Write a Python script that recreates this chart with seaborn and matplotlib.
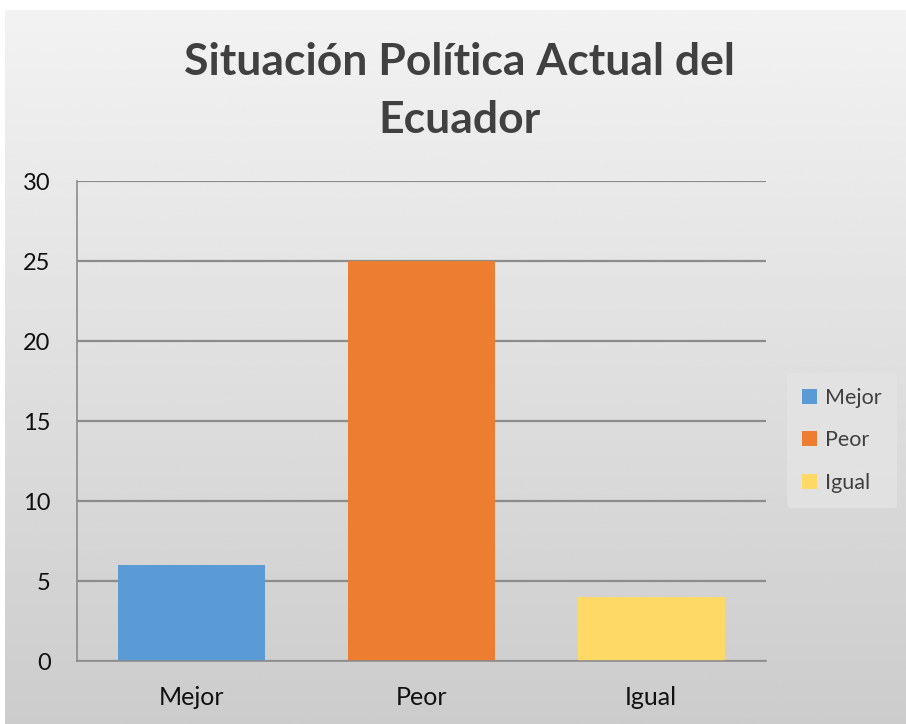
import numpy as np
import pandas as pd
import matplotlib
matplotlib.use("Agg")
import matplotlib.pyplot as plt
import seaborn as sns

# Data
categorias = ["Mejor", "Peor", "Igual"]
valores = [6, 25, 4]
colores = ["#5B9BD5", "#ED7D31", "#FFD966"]
yticks = [0, 5, 10, 15, 20, 25, 30]

df = pd.DataFrame({"categoria": categorias, "valor": valores})

sns.set_style("white")
plt.rcParams["font.family"] = ["Lato", "DejaVu Sans"]

fig = plt.figure(figsize=(9.06, 7.24), dpi=100)
fig.patch.set_facecolor("white")

# Gradient background of the chart area
bg = fig.add_axes([5 / 906, 0, 1 - 5 / 906, 1 - 10 / 724])
grad = np.linspace(0.95, 0.80, 256).reshape(-1, 1)
grad = np.tile(grad, (1, 2))
bg.imshow(grad, cmap="gray", vmin=0, vmax=1, aspect="auto", extent=[0, 1, 0, 1])
bg.axis("off")

ax = fig.add_axes([77 / 906, 1 - 661 / 724, 689 / 906, 480 / 724])
ax.patch.set_alpha(0)

sns.barplot(data=df, x="categoria", y="valor", hue="categoria",
            palette=colores, saturation=1, width=0.64, dodge=False,
            linewidth=0, ax=ax, legend=True)

ax.set_ylim(0, 30)
ax.set_yticks(yticks)
ax.set_yticklabels([str(t) for t in yticks], fontsize=17, color="#111111")
ax.tick_params(axis="x", labelsize=18, colors="#111111", length=0, pad=18)
ax.tick_params(axis="y", length=0, pad=19)
ax.set_xlabel("")
ax.set_ylabel("")
ax.yaxis.grid(True, color="#8c8c8c", linewidth=1.6)
ax.set_axisbelow(True)
ax.spines["right"].set_visible(False)
ax.spines["top"].set_visible(False)
ax.spines["left"].set_color("#8c8c8c")
ax.spines["bottom"].set_color("#8c8c8c")
ax.spines["left"].set_linewidth(1.2)
ax.spines["bottom"].set_linewidth(1.2)

leg = ax.legend(loc="center left", bbox_to_anchor=(1.03, 0.46), frameon=True,
                fontsize=15.5, handlelength=0.7, handleheight=0.7,
                handletextpad=0.4, labelspacing=1.05, borderpad=0.7,
                borderaxespad=0)
leg.get_frame().set_facecolor("#e3e3e3")
leg.get_frame().set_edgecolor("none")
leg.get_frame().set_alpha(0.9)
for t in leg.get_texts():
    t.set_color("#404040")

fig.text(0.507, 0.874, "Situación Política Actual del\nEcuador", ha="center",
         va="center", fontsize=32, fontweight="bold", color="#404040",
         linespacing=1.55)

fig.savefig("out.png", dpi=100)
